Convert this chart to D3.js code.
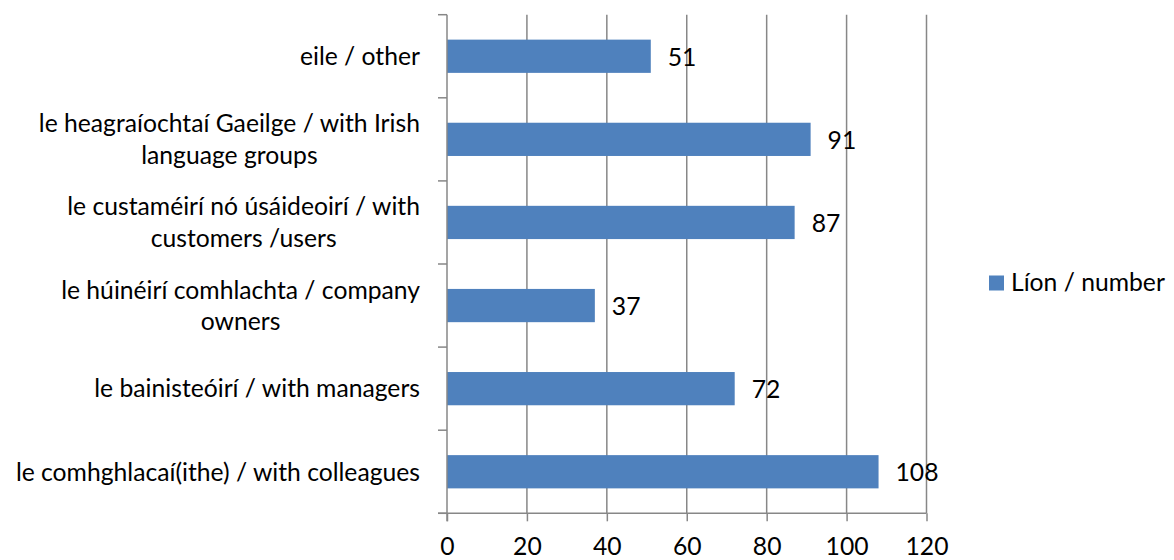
<!DOCTYPE html>
<html>
<head>
<meta charset="utf-8">
<script src="https://cdn.jsdelivr.net/npm/d3@7"></script>
<style>
  html, body { margin: 0; padding: 0; background: #fff; }
  svg { display: block; }
  text { font-family: Lato, "Open Sans", sans-serif; fill: #000; }
</style>
</head>
<body>
<svg id="chart" width="1174" height="560"></svg>
<script>
// ---- data ----
const categories = [
  ["eile / other"],
  ["le heagraíochtaí Gaeilge / with Irish", "language groups"],
  ["le custaméirí nó úsáideoirí / with", "customers /users"],
  ["le húinéirí comhlachta / company", "owners"],
  ["le bainisteóirí / with managers"],
  ["le comhghlacaí(ithe) / with colleagues"]
];
const values = [51, 91, 87, 37, 72, 108];
const xTicks = [0, 20, 40, 60, 80, 100, 120];
const seriesName = "Líon / number";

// ---- layout ----
const svg = d3.select("#chart");
const plotLeft = 447, plotRight = 926.5, plotTop = 14.7, plotBottom = 513.3;
const fontSize = 24.7;
const barColor = "#4F81BD";
const gridColor = "#878787";

const x = d3.scaleLinear().domain([0, 120]).range([plotLeft, plotRight]);
const y = d3.scaleBand().domain(d3.range(categories.length)).range([plotTop, plotBottom])
  .paddingInner(0.6).paddingOuter(0.3);

// gridlines
svg.append("g").selectAll("line").data(xTicks.slice(1)).join("line")
  .attr("x1", d => x(d)).attr("x2", d => x(d))
  .attr("y1", plotTop).attr("y2", plotBottom)
  .attr("stroke", gridColor).attr("stroke-width", 1.5);

// bars
svg.append("g").selectAll("rect").data(values).join("rect")
  .attr("x", x(0)).attr("y", (d, i) => y(i))
  .attr("width", d => x(d) - x(0)).attr("height", y.bandwidth())
  .attr("fill", barColor);

// x axis
const xAxis = d3.axisBottom(x).tickValues(xTicks).tickSize(8).tickPadding(16).tickSizeOuter(0);
const gx = svg.append("g").attr("transform", `translate(0,${plotBottom})`).call(xAxis);
gx.select(".domain").remove();
gx.append("line").attr("x1", plotLeft - 9).attr("x2", plotRight).attr("y1", 0).attr("y2", 0)
  .attr("stroke", gridColor).attr("stroke-width", 1.5);
gx.selectAll(".tick line").attr("stroke", gridColor).attr("stroke-width", 1.5);
gx.selectAll(".tick text").attr("font-size", fontSize).attr("font-family", "Lato, sans-serif").attr("fill", "#000");

// y axis line + ticks at band boundaries
const step = y.step();
const bounds = d3.range(categories.length + 1).map(i => plotTop + i * step);
svg.append("line").attr("x1", plotLeft).attr("x2", plotLeft).attr("y1", plotTop).attr("y2", plotBottom + 8)
  .attr("stroke", gridColor).attr("stroke-width", 1.5);
svg.append("g").selectAll("line").data(bounds).join("line")
  .attr("x1", plotLeft - 9).attr("x2", plotLeft).attr("y1", d => d).attr("y2", d => d)
  .attr("stroke", gridColor).attr("stroke-width", 1.5);

// category labels
const lineH = 31.7;
const labelRight = 420;
const lg = svg.append("g");
categories.forEach((lines, i) => {
  const cy = y(i) + y.bandwidth() / 2;
  const g = lg.append("g");
  const texts = lines.map((t, j) => g.append("text")
    .attr("font-size", fontSize)
    .attr("y", cy + 8.8 + (j - (lines.length - 1) / 2) * lineH)
    .text(t));
  const widths = texts.map(t => t.node().getComputedTextLength());
  const maxW = d3.max(widths);
  const centerX = labelRight - maxW / 2;
  texts.forEach(t => t.attr("x", centerX).attr("text-anchor", "middle"));
});

// value labels
svg.append("g").selectAll("text").data(values).join("text")
  .attr("x", d => x(d) + 17)
  .attr("y", (d, i) => y(i) + y.bandwidth() / 2 + 9.3)
  .attr("font-size", fontSize)
  .text(d => d);

// legend
const leg = svg.append("g");
leg.append("rect").attr("x", 989).attr("y", 275.5).attr("width", 15).attr("height", 15).attr("fill", barColor);
leg.append("text").attr("x", 1011).attr("y", 290.5).attr("font-size", fontSize).text(seriesName);
</script>
</body>
</html>
